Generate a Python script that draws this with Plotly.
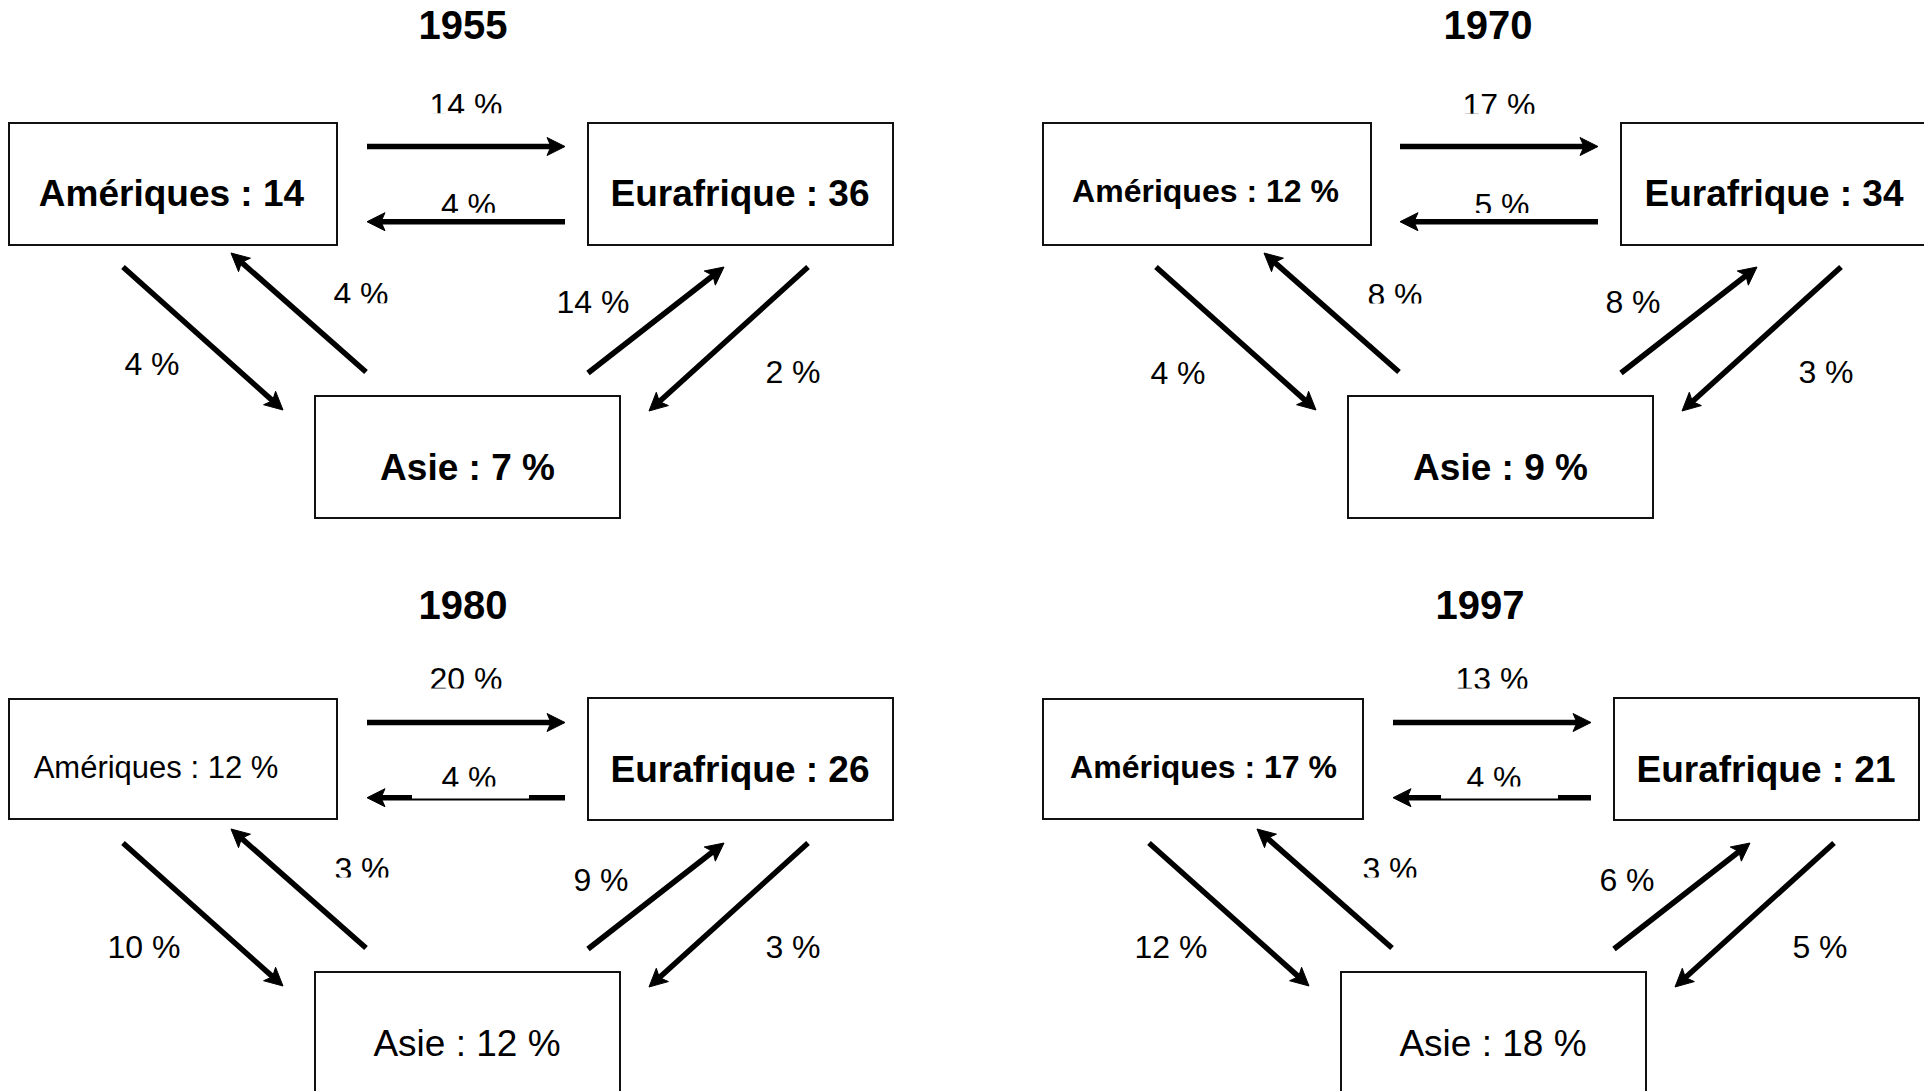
import plotly.graph_objects as go

# ---------------- data ----------------
years = ["1955", "1970", "1980", "1997"]
ameriques = ["14", "12 %", "12 %", "17 %"]
eurafrique = ["36", "34", "26", "21"]
asie = ["7 %", "9 %", "12 %", "18 %"]

amer_to_eur = [14, 17, 20, 13]
eur_to_amer = [4, 5, 4, 4]
asie_to_amer = [4, 8, 3, 3]
amer_to_asie = [4, 4, 10, 12]
asie_to_eur = [14, 8, 9, 6]
eur_to_asie = [2, 3, 3, 5]

# ---------------- layout (pixel coordinates on a 1924 x 1091 canvas) ----------------
W, H = 1924, 1091
FONT = "Liberation Sans, Arial, sans-serif"
CAP_ADJ = 0.125    # shift so that the cap-height centre sits on the given y (big texts)
LABEL_ADJ = 0.06   # same for the flow labels

title_pos = [(463, 24), (1488, 24), (463, 604), (1480, 604)]

boxes = [
    {"A": (9, 123, 337, 245), "E": (588, 123, 893, 245), "S": (315, 396, 620, 518)},
    {"A": (1043, 123, 1371, 245), "E": (1621, 123, 1926, 245), "S": (1348, 396, 1653, 518)},
    {"A": (9, 699, 337, 819), "E": (588, 698, 893, 820), "S": (315, 972, 620, 1094)},
    {"A": (1043, 699, 1363, 819), "E": (1614, 698, 1919, 820), "S": (1341, 972, 1646, 1094)},
]

# (x, y, size, weight)
box_text = [
    {"A": (171.5, 191.7, 37, "bold"), "E": (740, 191.7, 37, "bold"), "S": (467.5, 466, 37, "bold")},
    {"A": (1205.5, 190, 32, "bold"), "E": (1774, 191.7, 37, "bold"), "S": (1500.5, 466, 37, "bold")},
    {"A": (156, 766, 31, "normal"), "E": (740, 767.7, 37, "bold"), "S": (467, 1042, 37, "normal")},
    {"A": (1203.5, 766, 32, "bold"), "E": (1766, 767.7, 37, "bold"), "S": (1493, 1042, 37, "normal")},
]

arrow_base = {
    "ae": ((367, 146.5), (565, 146.5)),
    "ea": ((565, 221.7), (367, 221.7)),
    "as": ((123, 267), (283, 410)),
    "sa": ((366, 372), (231, 253)),
    "se": ((588, 373), (724, 267)),
    "es": ((808, 267), (649, 411)),
}
arrow_offset = [(0, 0), (1033, 0), (0, 576), (1026, 576)]

label_pos = [
    {"ae": (466, 106.5), "ea": (468.5, 206.5), "sa": (361, 294.8), "se": (593, 303), "as": (152, 365.5), "es": (793, 373.5)},
    {"ae": (1499, 106.3), "ea": (1502, 206.3), "sa": (1395, 296), "se": (1633, 303), "as": (1178, 374), "es": (1826, 373.5)},
    {"ae": (466, 680.3), "ea": (469, 779.3), "sa": (362, 870.5), "se": (601, 881), "as": (144, 948), "es": (793, 948)},
    {"ae": (1492, 680.3), "ea": (1494, 779.3), "sa": (1390, 870.5), "se": (1627, 881), "as": (1171, 948), "es": (1820, 948)},
]
LABEL_SIZE = 32
TITLE_SIZE = 40

# white text-box edges that cut off the bottom of some labels (x0, x1, y0, y1)
clip_rects = [
    (425, 512, 113.3, 120), (428, 512, 212.7, 217.5), (328, 396, 303.3, 310),
    (1458, 1545, 113.8, 120), (1461, 1545, 213, 217.5), (1362, 1430, 303.4, 310),
    (425, 512, 688.4, 695), (412, 529, 786.5, 798.5), (328, 396, 877.6, 884),
    (1451, 1537, 688.4, 695), (1441, 1558, 786.5, 798.5), (1356, 1424, 877.6, 884),
]

LINE_W = 5.5
HEAD_L, HEAD_W, NOTCH = 18, 9, 4

flows = {"ae": amer_to_eur, "ea": eur_to_amer, "sa": asie_to_amer,
         "as": amer_to_asie, "se": asie_to_eur, "es": eur_to_asie}

fig = go.Figure()
shapes = []

for p in range(4):
    # boxes
    for key in ("A", "E", "S"):
        x0, y0, x1, y1 = boxes[p][key]
        shapes.append(dict(type="rect", xref="x", yref="y", x0=x0, y0=y0, x1=x1, y1=y1,
                           line=dict(color="#111", width=2), fillcolor="white", layer="below"))
    # arrows
    ox, oy = arrow_offset[p]
    for key, ((sx, sy), (tx, ty)) in arrow_base.items():
        sx, sy, tx, ty = sx + ox, sy + oy, tx + ox, ty + oy
        dx, dy = tx - sx, ty - sy
        n = (dx * dx + dy * dy) ** 0.5
        ux, uy = dx / n, dy / n
        px, py = -uy, ux
        bx, by = tx - HEAD_L * ux, ty - HEAD_L * uy
        nx, ny = tx - (HEAD_L - NOTCH) * ux, ty - (HEAD_L - NOTCH) * uy
        shapes.append(dict(type="line", xref="x", yref="y", x0=sx, y0=sy, x1=nx + ux, y1=ny + uy,
                           line=dict(color="black", width=LINE_W), layer="below"))
        path = (f"M {tx:.2f},{ty:.2f} L {bx + HEAD_W * px:.2f},{by + HEAD_W * py:.2f} "
                f"L {nx:.2f},{ny:.2f} L {bx - HEAD_W * px:.2f},{by - HEAD_W * py:.2f} Z")
        shapes.append(dict(type="path", xref="x", yref="y", path=path,
                           fillcolor="black", line=dict(color="black", width=1), layer="below"))

    # titles
    fig.add_trace(go.Scatter(x=[title_pos[p][0]], y=[title_pos[p][1] + CAP_ADJ * TITLE_SIZE],
                             mode="text", text=[years[p]], textposition="middle center",
                             textfont=dict(family=FONT, size=TITLE_SIZE, color="black", weight="bold"),
                             hoverinfo="skip", cliponaxis=False, showlegend=False))
    # box texts
    texts = {"A": f"Amériques : {ameriques[p]}", "E": f"Eurafrique : {eurafrique[p]}",
             "S": f"Asie : {asie[p]}"}
    for key in ("A", "E", "S"):
        x, y, size, weight = box_text[p][key]
        fig.add_trace(go.Scatter(x=[x], y=[y + CAP_ADJ * size], mode="text", text=[texts[key]],
                                 textposition="middle center",
                                 textfont=dict(family=FONT, size=size, color="black", weight=weight),
                                 hoverinfo="skip", cliponaxis=False, showlegend=False))
    # flow labels
    lx = [label_pos[p][k][0] for k in flows]
    ly = [label_pos[p][k][1] + LABEL_ADJ * LABEL_SIZE for k in flows]
    lt = [f"{flows[k][p]} %" for k in flows]
    fig.add_trace(go.Scatter(x=lx, y=ly, mode="text", text=lt, textposition="middle center",
                             textfont=dict(family=FONT, size=LABEL_SIZE, color="black"),
                             hoverinfo="skip", cliponaxis=False, showlegend=False))

for (x0, x1, y0, y1) in clip_rects:
    shapes.append(dict(type="rect", xref="x", yref="y", x0=x0, x1=x1, y0=y0, y1=y1,
                       line=dict(width=0), fillcolor="white", layer="above"))

fig.update_layout(
    width=W, height=H, margin=dict(l=0, r=0, t=0, b=0),
    paper_bgcolor="white", plot_bgcolor="white", showlegend=False,
    xaxis=dict(range=[0, W], visible=False, fixedrange=True),
    yaxis=dict(range=[H, 0], visible=False, fixedrange=True),
    shapes=shapes,
)

fig.write_html("out.html", config={"displayModeBar": False},
               post_script="document.body.style.margin='0';document.body.style.overflow='hidden';")
